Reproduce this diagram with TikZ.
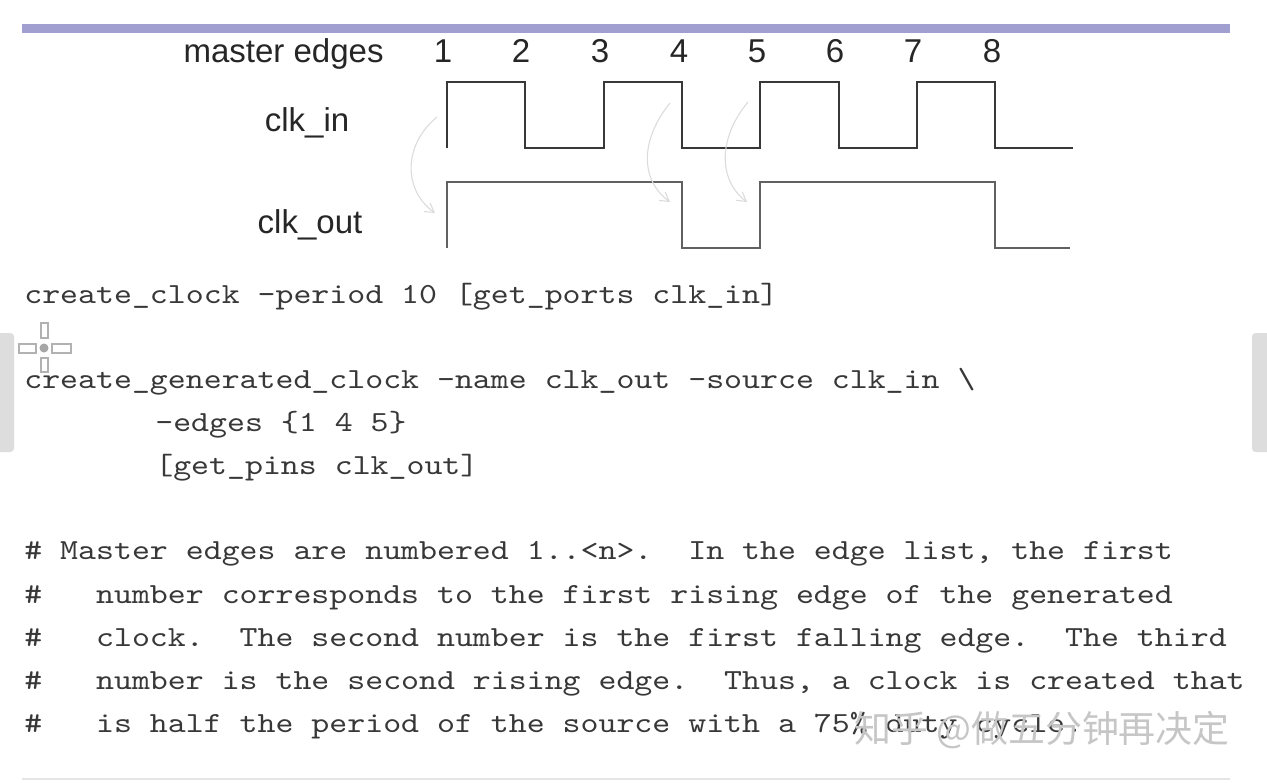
\documentclass[tikz,border=0pt]{standalone}
\usepackage{fontspec}
\setmainfont{Liberation Sans}
\newfontfamily\codefont{lmmono10-regular.otf}[FakeStretch=1.172]
\newfontfamily\cjkfont{Noto Sans CJK SC}
\usetikzlibrary{arrows.meta}
\definecolor{barpurple}{HTML}{A09FD0}
\definecolor{codegray}{HTML}{383838}
\definecolor{sidegray}{HTML}{DDDDDD}

\begin{document}
\begin{tikzpicture}[x=0.02cm,y=-0.02cm,
  lbl/.style={font=\fontsize{18.8}{20}\selectfont,text=black!85,inner sep=0pt,anchor=base},
  code/.style={font=\codefont\fontsize{16.6}{18}\selectfont,text=codegray,inner sep=0pt,anchor=base west},
  wave/.style={line width=1.2pt,black!78,line join=miter},
  hint/.style={gray!28,line width=0.6pt,-{Straight Barb[length=5pt,width=6pt]}}]
  \useasboundingbox[fill=white] (0,0) rectangle (1267,782);
  \fill[barpurple] (22,24) rectangle (1230,33);
  \draw[gray!20,line width=0.8pt] (22,779) -- (1230,779);
  \fill[sidegray,rounded corners=2pt] (-6,333) rectangle (14,452);
  \fill[sidegray,rounded corners=2pt] (1252,333) rectangle (1275,452);

  \node[lbl,anchor=base east] (master) at (384,62) {master edges};
  \foreach \i/\x in {1/443,2/521,3/600,4/679,5/757,6/835,7/913,8/992}
    \node[lbl] (e\i) at (\x,62) {\i};
  \node[lbl] (clkin) at (307,131) {clk\_in};
  \node[lbl] (clkout) at (310,233) {clk\_out};

  \draw[wave] (447,148) -- (447,82) -- (525,82) -- (525,148) -- (604,148)
    -- (604,82) -- (682,82) -- (682,148) -- (760,148) -- (760,82) -- (839,82)
    -- (839,148) -- (917,148) -- (917,82) -- (995,82) -- (995,148) -- (1073,148);
  \draw[wave,black!62] (447,248) -- (447,182) -- (682,182) -- (682,248)
    -- (760,248) -- (760,182) -- (995,182) -- (995,248) -- (1070,248);

  \coordinate (r1) at (437,117);
  \coordinate (f1) at (435,213);
  \coordinate (r4) at (670,103);
  \coordinate (f4) at (670,202);
  \coordinate (r5) at (748,102);
  \coordinate (f5) at (747,202);
  \draw[hint] (r1) .. controls (403,145) and (403,190) .. (f1);
  \draw[hint] (r4) .. controls (640,140) and (640,180) .. (f4);
  \draw[hint] (r5) .. controls (718,138) and (718,180) .. (f5);

  \node[code] (cmd1) at (24,303) {create\_clock -period 10 [get\_ports clk\_in]};
  \node[code] (cmd2) at (24,388) {create\_generated\_clock -name clk\_out -source clk\_in \textbackslash};
  \node[code] (cmd3) at (155,431) {-edges \{1 4 5\}};
  \node[code] (cmd4) at (155,474) {[get\_pins clk\_out]};

  \node[code] (note1) at (24,559) {\#\ Master edges are numbered 1..<n>.\ \ In the edge list, the first};
  \node[code] (note2) at (24,603) {\#\ \ \ number corresponds to the first rising edge of the generated};
  \node[code] (note3) at (24,646) {\#\ \ \ clock.\ \ The second number is the first falling edge.\ \ The third};
  \node[code] (note4) at (24,689) {\#\ \ \ number is the second rising edge.\ \ Thus, a clock is created that};
  \node[code] (note5) at (24,732) {\#\ \ \ is half the period of the source with a 75\% duty cycle.};

  \fill[gray!70] (44,348) circle (4.5);
  \draw[gray!60,line width=0.6pt] (41,323) rectangle (48,338);
  \draw[gray!60,line width=0.6pt] (41,358) rectangle (48,372);
  \draw[gray!60,line width=0.6pt] (19,344) rectangle (36,353);
  \draw[gray!60,line width=0.6pt] (52,344) rectangle (71,353);

  \node[font=\cjkfont\fontsize{21}{24}\selectfont,text=gray!45] (mark) at (1042,730) {知乎 @做五分钟再决定};
\end{tikzpicture}
\end{document}
